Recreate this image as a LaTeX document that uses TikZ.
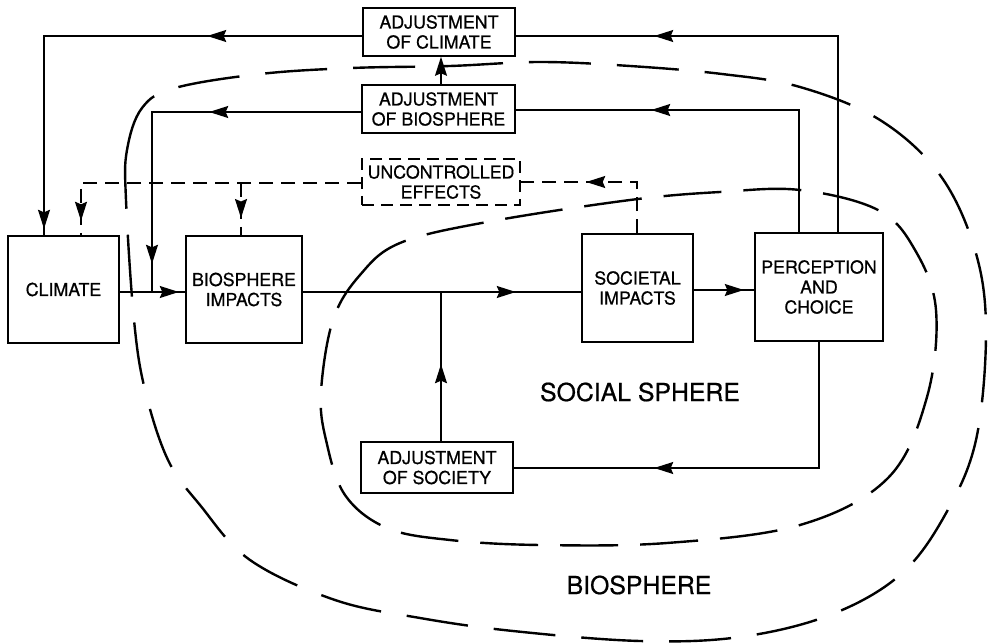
\documentclass[tikz,border=0pt]{standalone}
\usepackage{fontspec}
\setmainfont{TeX Gyre Heros}[FakeBold=0.6]
\usetikzlibrary{arrows.meta,decorations.markings}
\begin{document}
\begin{tikzpicture}[x=1pt,y=-1pt,
  box/.style={draw, line width=1.6pt, fill=white, inner sep=0pt, align=center,
              font=\fontsize{17.8}{20}\selectfont},
  dbox/.style={box, dash pattern=on 12pt off 7pt},
  conn/.style={line width=1.5pt},
  dconn/.style={conn, dash pattern=on 14pt off 8pt},
  loopline/.style={line width=2.4pt, dash pattern=on 62pt off 26pt},
  am/.style={postaction={decorate, decoration={markings, mark=at position #1 with
      {\arrow{Stealth[length=19pt,width=12pt,inset=2.5pt]}}}}},
  lab/.style={font=\fontsize{24.8}{28}\selectfont}
]
\useasboundingbox (0,0) rectangle (988,644);

% spheres
\draw[loopline] plot[smooth cycle, tension=0.6] coordinates {
  (126,200) (127,150) (142,108) (175,88) (260,74) (352,68) (450,66) (540,62) (630,66)
  (722,74) (800,87) (880,120) (940,175) (975,250) (986,330) (976,440) (945,515)
  (900,575) (830,615) (740,637) (640,641) (513,631) (420,618) (335,600) (250,560)
  (200,505) (168,460) (145,390) (134,320)};
\draw[loopline, dash pattern=on 58pt off 22pt] plot[smooth cycle, tension=0.6] coordinates {
  (333,320) (360,275) (400,243) (487,222) (630,200) (720,192) (800,190) (878,210)
  (915,250) (936,310) (927,397) (888,478) (800,525) (667,543) (540,545) (450,540)
  (387,528) (345,495) (326,440) (321,392)};

% nodes
\node[box, minimum width=111pt, minimum height=107pt] (climate) at (63.5,289.5) {CLIMATE};
\node[box, minimum width=116pt, minimum height=107pt] (bioimp) at (244,289.5) {BIOSPHERE\\IMPACTS};
\node[box, minimum width=111pt, minimum height=108pt] (socimp) at (637.5,288) {SOCIETAL\\IMPACTS};
\node[box, minimum width=128pt, minimum height=108pt] (percep) at (819,287) {PERCEPTION\\AND\\CHOICE};
\node[box, minimum width=152pt, minimum height=48pt] (adjclim) at (439,32) {ADJUSTMENT\\OF CLIMATE};
\node[box, minimum width=153pt, minimum height=48pt] (adjbio) at (438.5,109) {ADJUSTMENT\\OF BIOSPHERE};
\node[dbox, minimum width=158pt, minimum height=46pt] (uncon) at (441,182) {UNCONTROLLED\\EFFECTS};
\node[box, minimum width=152pt, minimum height=51pt] (adjsoc) at (437,467.5) {ADJUSTMENT\\OF SOCIETY};

\node[lab] (ss) at (640,392) {SOCIAL SPHERE};
\node[lab] (bs) at (639,585) {BIOSPHERE};

\coordinate (j1) at (152,292);
\coordinate (j2) at (441,292);
\coordinate (j3) at (241,183);

% connectors
\draw[conn, am=380pt] (percep.north -| 838,0) -- (838,36) -- (adjclim.east |- 0,36);
\draw[conn, am=155pt, am=511pt] (adjclim.west |- 0,36) -- (44,36) -- (climate.north -| 44,0);
\draw[conn, am=270pt] (percep.north -| 799,0) -- (799,110) -- (adjbio.east |- 0,110);
\draw[conn, -{Stealth[length=19pt,width=12pt,inset=2.5pt]}] (adjbio.north -| 441,0) -- (adjclim.south -| 441,0);
\draw[conn, am=152pt, am=361pt] (adjbio.west |- 0,112) -- (152,112) -- (j1);
\draw[conn, am=59pt] (climate.east |- j1) -- (bioimp.west |- j1);
\draw[dconn, am=318pt] (uncon.west |- 0,183) -- (81,183) -- (climate.north -| 81,0);
\draw[dconn, am=35pt] (j3) -- (bioimp.north -| j3);
\draw[dconn, am=102pt] (socimp.north -| 637,0) -- (637,182) -- (uncon.east |- 0,182);
\draw[conn, am=213pt] (bioimp.east |- j2) -- (socimp.west |- j2);
\draw[conn, am=77pt] (adjsoc.north -| j2) -- (j2);
\draw[conn, am=50pt] (socimp.east |- 0,290) -- (percep.west |- 0,290);
\draw[conn, am=291pt] (percep.south -| 819,0) -- (819,468) -- (adjsoc.east |- 0,468);
\end{tikzpicture}
\end{document}
